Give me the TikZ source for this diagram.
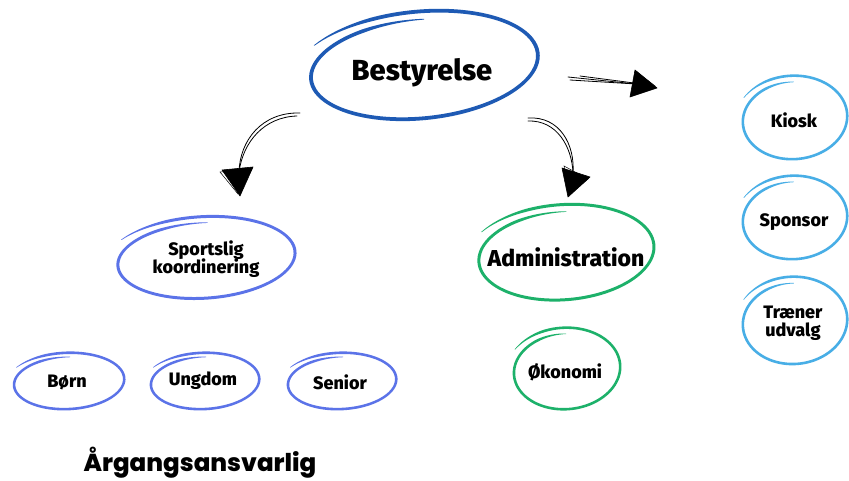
\documentclass[tikz,border=0pt]{standalone}
\usepackage{fontspec}
\setmainfont{Fira Sans}
\newfontfamily\handfont{Fira Sans}[UprightFont=* ExtraBold]
\newfontfamily\popfont{Poppins}[UprightFont=* ExtraBold]
\usetikzlibrary{calc}
\definecolor{cBest}{HTML}{1E5AB4}
\definecolor{cSport}{HTML}{5B73E8}
\definecolor{cGreen}{HTML}{1DB16A}
\definecolor{cLight}{HTML}{48AEE6}
\tikzset{
  lbl/.style={font=\handfont\fontsize{18}{22}\selectfont, align=center, text=black, inner sep=0pt},
  shaft/.style={black, line width=0.8pt, line cap=round},
  headfill/.style={black, fill=black, line width=0.6pt, line join=round},
}
% tapered hand-drawn loop: #1 centre, #2 rx, #3 ry, #4 colour, #5 rotation, #6 max width
\newcommand{\sketchloop}[6]{%
  \fill[#4, shift={#1}, rotate=#5]
    plot[smooth, domain=215:635, samples=110, variable=\t]
      ({(#2*(1.03-0.17*(\t-215)/420)+0.5*#6*(0.2+0.8*min(1,(\t-215)/35,(635-\t)/35)))*cos(\t)},
       {(#3*(1.03-0.17*(\t-215)/420)+0.5*#6*(0.2+0.8*min(1,(\t-215)/35,(635-\t)/35)))*sin(\t)})
    -- plot[smooth, domain=635:215, samples=110, variable=\t]
      ({(#2*(1.03-0.17*(\t-215)/420)-0.5*#6*(0.2+0.8*min(1,(\t-215)/35,(635-\t)/35)))*cos(\t)},
       {(#3*(1.03-0.17*(\t-215)/420)-0.5*#6*(0.2+0.8*min(1,(\t-215)/35,(635-\t)/35)))*sin(\t)})
    -- cycle;}
\begin{document}
\begin{tikzpicture}[x=1pt,y=-1pt]
\useasboundingbox (0,0) rectangle (849,481);
\fill[white] (0,0) rectangle (849,481);

% nodes
\node[lbl, font=\handfont\fontsize{29}{34}\selectfont] (best) at (422,73) {Bestyrelse};
\node[lbl] (sport) at (206,259) {Sportslig\\[-4pt]koordinering};
\node[lbl] (born) at (67,382) {Børn};
\node[lbl] (ungdom) at (203,381) {Ungdom};
\node[lbl] (senior) at (340,382) {Senior};
\node[lbl, font=\handfont\fontsize{23}{28}\selectfont] (admin) at (566,257) {Administration};
\node[lbl] (okon) at (565,372) {Økonomi};
\node[lbl] (kiosk) at (794,120) {Kiosk};
\node[lbl] (sponsor) at (794,222) {Sponsor};
\node[lbl] (traener) at (793,323) {Træner\\[-4pt]udvalg};
\node[font=\popfont\fontsize{24.5}{28}\selectfont, inner sep=0pt, anchor=base] (aarg) at (200,471) {Årgangsansvarlig};

% sketch loops
\sketchloop{(420,67)}{122}{55}{cBest}{6}{3.8}
\sketchloop{(203,259)}{95}{42}{cSport}{4}{3}
\sketchloop{(67,382)}{59}{29}{cSport}{3}{2.6}
\sketchloop{(203,382)}{58}{29}{cSport}{3}{2.6}
\sketchloop{(340,382)}{58}{29}{cSport}{3}{2.6}
\sketchloop{(563,254)}{94}{49}{cGreen}{5}{3}
\sketchloop{(565,370)}{57}{42}{cGreen}{5}{2.6}
\sketchloop{(793,119)}{56}{43}{cLight}{5}{2.6}
\sketchloop{(793,219)}{56}{43}{cLight}{5}{2.6}
\sketchloop{(793,322)}{56}{45}{cLight}{5}{2.6}

% arrows: coordinates
\coordinate (a1s) at (300,113);
\coordinate (a1e) at (239,172);
\coordinate (a2s) at (528,118);
\coordinate (a2e) at (573,173);
\coordinate (a3s) at (568,77);
\coordinate (a3e) at (636,84);

% arrow 1 (left, curving down)
\draw[shaft] (a1s) .. controls (262,112) and (240,140) .. (a1e);
\draw[shaft] ($(a1s)+(-3,3)$) .. controls (264,117) and (243,142) .. (a1e);
\draw[headfill] (222,170) -- (253,167) -- (240,196) -- cycle;
\draw[black, line width=0.5pt] (220,172) -- (252,169) -- (238,194) -- cycle;

% arrow 2 (right, curving down)
\draw[shaft] (a2s) .. controls (560,116) and (575,145) .. (a2e);
\draw[shaft] ($(a2s)+(0,3)$) .. controls (557,120) and (572,147) .. (a2e);
\draw[headfill] (562,168) -- (590,177) -- (568,197) -- cycle;
\draw[black, line width=0.5pt] (564,166) -- (588,179) -- (569,195) -- cycle;

% arrow 3 (horizontal)
\draw[shaft] (a3s) -- (a3e);
\draw[shaft] ($(a3s)+(2,3)$) -- (a3e);
\draw[shaft] ($(a3s)+(12,-1)$) -- ($(a3e)+(-2,-1)$);
\draw[headfill] (635,70) -- (657,88) -- (630,97) -- cycle;
\draw[black, line width=0.5pt] (637,72) -- (655,86) -- (632,95) -- cycle;
\end{tikzpicture}
\end{document}
